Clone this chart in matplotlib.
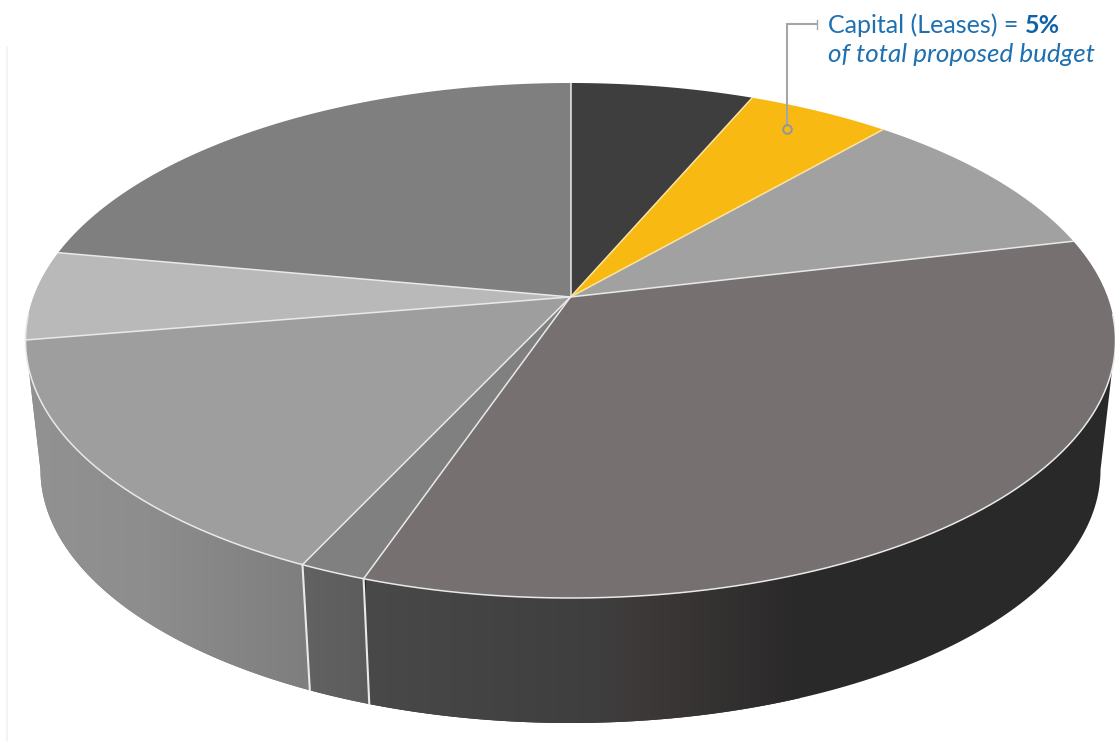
import numpy as np
import matplotlib
matplotlib.use('Agg')
import matplotlib.pyplot as plt
from matplotlib.colors import LinearSegmentedColormap
from matplotlib.patches import Polygon

# budget shares, clockwise from 12 o'clock
shares = [6.4, 5.0, 9.9, 34.0, 1.7, 15.4, 5.6, 22.1]
top_colors = ['#3f3e3e', '#f8b913', '#a1a1a1', '#767071',
              '#808080', '#9e9e9e', '#b9b9b9', '#7f7f7f']
# rim shading of the slices that face the viewer: page x, colour
rim_stops = {3: [(366, '#4a4949'), (600, '#3e3e3e'), (640, '#3e3939'), (800, '#2a2929')],
             4: [(303, '#626262'), (372, '#5d5c5c')],
             5: [(26, '#929292'), (150, '#8d8d8d'), (310, '#7e7e7e')]}

label_main = 'Capital (Leases) = '
label_value = '5%'
label_sub = 'of total proposed budget'

BLUE = '#1f70b0'
LINE = '#e9e9e9'
LINE_YELLOW = '#fbe3a0'
LEADER = '#a3a5a8'

# perspective of the disc: persp is the foreshortening of the depth axis
persp = 0.169
CX = 570.5


def project(theta, y_back, y_front, half_width):
    u, v = np.sin(theta), np.cos(theta)
    w = 1 + persp * v
    d = (y_back * (1 + persp) + y_front * (1 - persp)) / 2
    e = y_back * (1 + persp) - d
    r = half_width * np.sqrt(1 - persp ** 2)
    return CX + r * u / w, (e * v + d) / w


def top(theta):
    return project(theta, 83, 598, 545)


def bottom(theta):
    return project(theta, 217, 723, 530)


fig = plt.figure(figsize=(11.15, 7.41), dpi=100)
ax = fig.add_axes([0, 0, 1, 1])
ax.axis('off')

edges = np.radians(np.cumsum([0] + shares) / sum(shares) * 360)
hidden_from = np.pi - np.arcsin(np.sqrt(1 - persp ** 2))  # right tangent
hidden_to = 2 * np.pi - hidden_from                       # left tangent

# centre of the pie on the page
cy = (83 * (1 + persp) + 598 * (1 - persp)) / 2

# rim first, the top face goes over it
for i, stops in rim_stops.items():
    a0, a1 = max(edges[i], hidden_from), min(edges[i + 1], hidden_to)
    t = np.linspace(a0, a1, 200)
    xt, yt = top(t)
    xb, yb = bottom(t[::-1])
    pts = np.column_stack([np.r_[xt, xb], np.r_[yt, yb]])
    xs = [s[0] for s in stops]
    pos = [(x - xs[0]) / (xs[-1] - xs[0]) for x in xs]
    cmap = LinearSegmentedColormap.from_list('rim', list(zip(pos, [s[1] for s in stops])))
    # flat colour past the last stop
    ax.add_patch(Polygon(pts, closed=True, fc=stops[-1][1], ec='none', zorder=0.9))
    img = ax.imshow(cmap(np.linspace(0, 1, 256))[None, :, :3],
                    extent=(xs[0], xs[-1], 741, 0), aspect='auto',
                    interpolation='bilinear', zorder=1)
    img.set_clip_path(Polygon(pts, transform=ax.transData))

ax.set_xlim(0, 1115)
ax.set_ylim(741, 0)

# top face
for i, color in enumerate(top_colors):
    xt, yt = top(np.linspace(edges[i], edges[i + 1], 120))
    ax.add_patch(Polygon(np.column_stack([np.r_[CX, xt], np.r_[cy, yt]]),
                         closed=True, fc=color, ec='none', zorder=2))

# spokes and rim seams
for i, a in enumerate(edges[:-1]):
    xt, yt = top(a)
    color = LINE_YELLOW if i in (1, 2) else LINE
    ax.plot([CX, xt], [cy, yt], color=color, lw=1.1, zorder=3, solid_capstyle='round')
    if hidden_from < a < hidden_to:
        xb, yb = bottom(a)
        ax.plot([xt, xb], [yt, yb], color=LINE, lw=1.5, zorder=3)

# white lip along the front of the disc
xt, yt = top(np.linspace(hidden_from - 0.1, hidden_to + 0.1, 400))
ax.plot(xt, yt, color=LINE, lw=1.1, zorder=3)

# page margin rule
ax.plot([7, 7], [47, 741], color='#f2f2f2', lw=1.2, zorder=0)

# leader for the highlighted slice
ax.plot([787, 787, 817], [125, 24, 24], color=LEADER, lw=1.5, zorder=4,
        solid_joinstyle='miter')
ax.plot([817, 817], [20, 29], color=LEADER, lw=1.0, zorder=4)
ax.plot([787], [129], 'o', ms=6.2, mfc='none', mec='#8f96a0', mew=1.4, zorder=4)

font = ['Lato', 'Open Sans', 'DejaVu Sans']
main = ax.text(828, 33, label_main, fontsize=18.0, color=BLUE, family=font, va='baseline')
ax.annotate(label_value, xy=(1, 0), xycoords=main, va='bottom', fontsize=18.0,
            color='#0f62a8', family=font, fontweight='bold', annotation_clip=False)
ax.text(828, 62, label_sub, fontsize=18.7, color=BLUE, family=font,
        style='italic', va='baseline')

fig.savefig('out.png', dpi=100)
